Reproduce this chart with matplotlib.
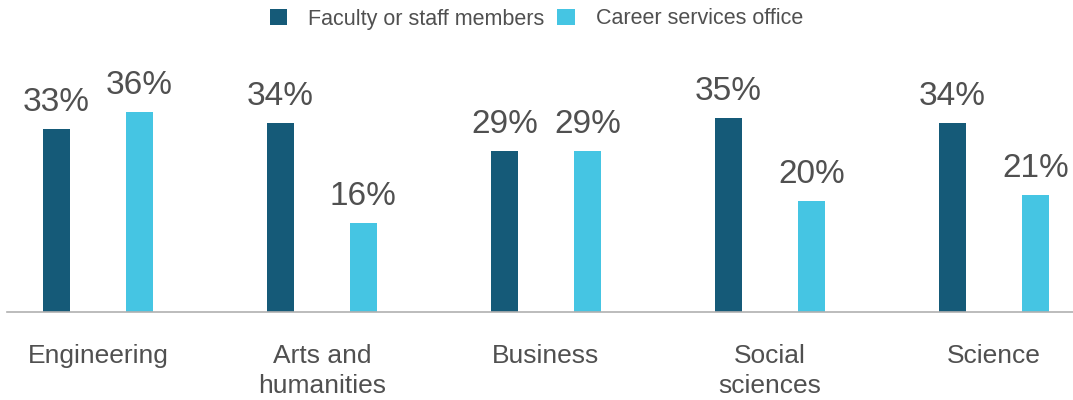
import matplotlib.pyplot as plt
import numpy as np

plt.rcParams["font.family"] = ["Liberation Sans", "DejaVu Sans"]

categories = ["Engineering", "Arts and\nhumanities", "Business", "Social\nsciences", "Science"]
faculty = [33, 34, 29, 35, 34]
career = [36, 16, 29, 20, 21]
series_names = ["Faculty or staff members", "Career services office"]

dark = "#155A78"
light = "#45C5E3"
text_col = "#505050"

fig = plt.figure(figsize=(10.73, 4.0), dpi=100)
ax = fig.add_axes([7 / 1073, 88 / 400, 1 - 7 / 1073, 272 / 400])

x = np.arange(len(categories))
off = 0.185
w = 0.122
b1 = ax.bar(x - off, faculty, width=w, color=dark, label=series_names[0])
b2 = ax.bar(x + off, career, width=w, color=light, label=series_names[1])

for bars, vals in [(b1, faculty), (b2, career)]:
    for rect, v in zip(bars, vals):
        ax.text(rect.get_x() + rect.get_width() / 2, v + 2.0, f"{v}%",
                ha="center", va="bottom", fontsize=24, color=text_col)

ax.set_xlim(-0.406, 4.353)
ax.set_ylim(0, 49)
ax.set_yticks([])
ax.set_xticks(x)
ax.set_xticklabels(categories, fontsize=19, color=text_col, linespacing=1.3, va="top")
ax.tick_params(axis="x", length=0, pad=23)
for s in ["top", "right", "left"]:
    ax.spines[s].set_visible(False)
ax.spines["bottom"].set_color("#b0b0b0")
ax.spines["bottom"].set_linewidth(1.2)

fig.legend(handles=[b1, b2], loc="center", bbox_to_anchor=(0.5, 1 - 19 / 400), ncol=2,
           frameon=False, fontsize=15.5, labelcolor=text_col, handlelength=0.8, handleheight=0.8,
           handletextpad=1.0, columnspacing=0.6)

fig.savefig("out.png", dpi=100)
